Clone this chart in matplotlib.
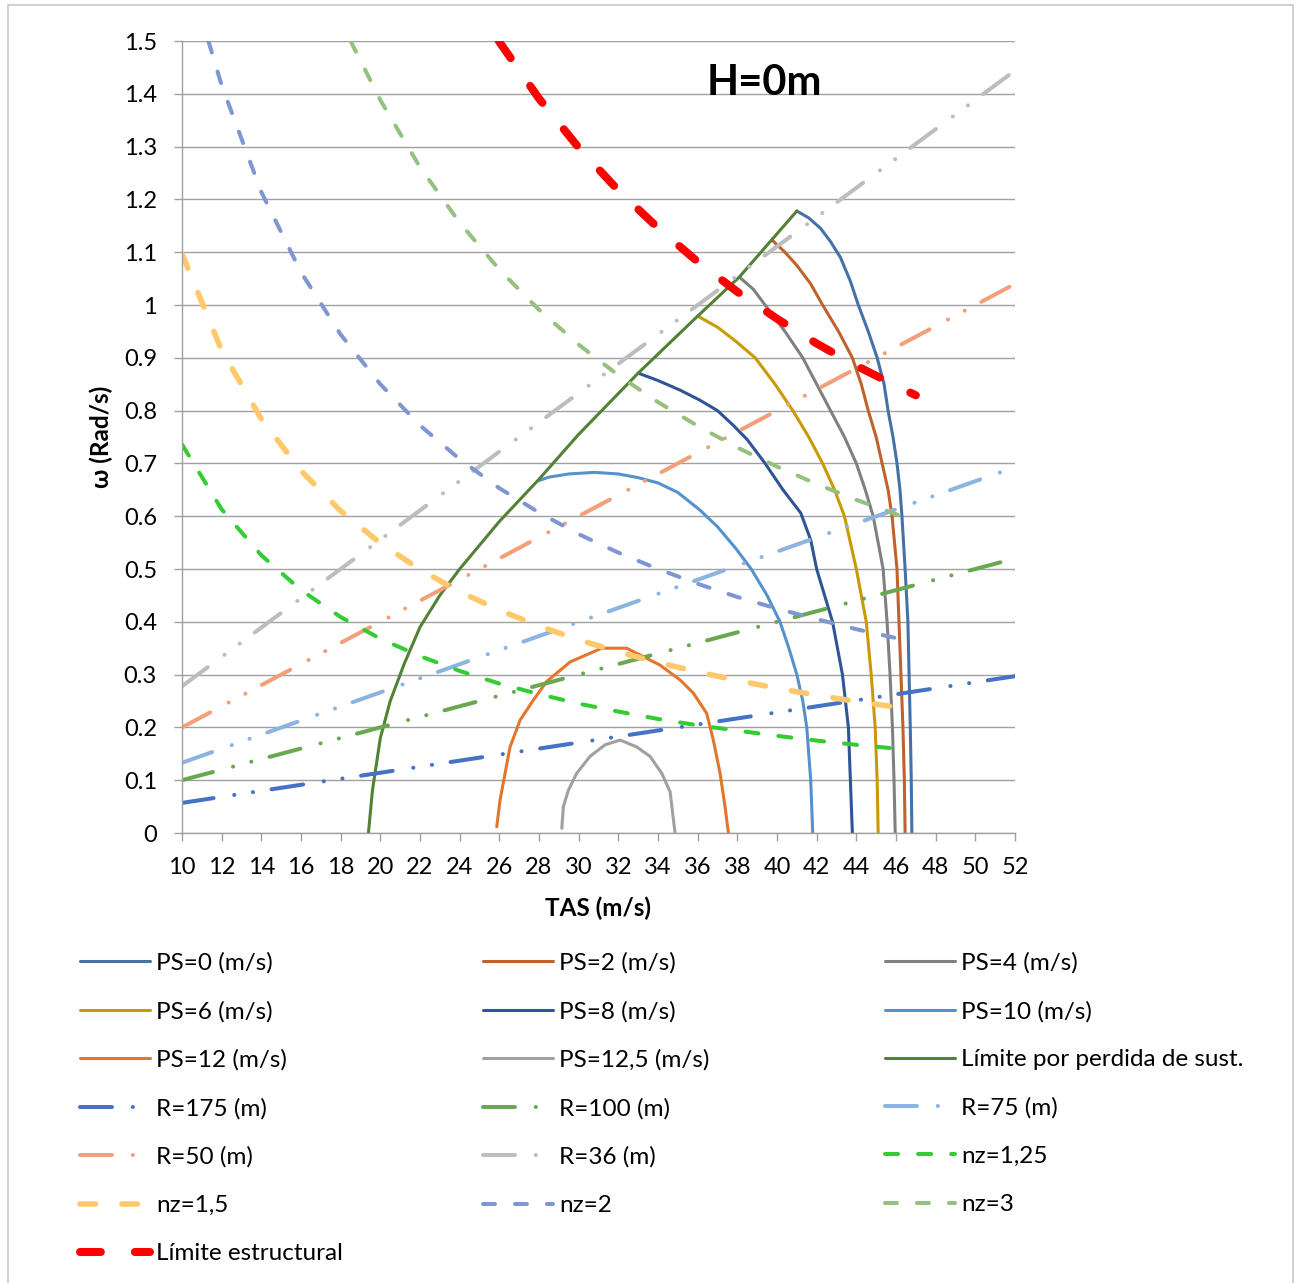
import matplotlib
matplotlib.use("Agg")
import matplotlib.pyplot as plt
from matplotlib.patches import Rectangle

plt.rcParams['font.family'] = ['Lato', 'DejaVu Sans']
plt.rcParams['lines.scale_dashes'] = False

# ---- data ----
# specific excess power curves (TAS m/s, omega rad/s)
ps0_v = [41.0, 41.6, 42.2, 42.7, 43.2, 43.7, 44.1, 44.6, 45.05, 45.4, 45.6, 45.85,
         46.05, 46.2, 46.3, 46.46, 46.6, 46.66, 46.72, 46.77, 46.8]
ps0_w = [1.178, 1.165, 1.145, 1.12, 1.09, 1.045, 1.0, 0.95, 0.9, 0.85, 0.8, 0.75,
         0.7, 0.65, 0.6, 0.5, 0.4, 0.3, 0.2, 0.1, 0.0]
ps2_v = [39.75, 40.4, 41.0, 41.7, 42.3, 43.1, 43.8, 44.25, 44.6, 45.0, 45.3, 45.6,
         45.8, 46.05, 46.15, 46.25, 46.35, 46.42, 46.46]
ps2_w = [1.123, 1.10, 1.075, 1.04, 1.0, 0.95, 0.9, 0.85, 0.8, 0.75, 0.7, 0.65,
         0.6, 0.5, 0.4, 0.3, 0.2, 0.1, 0.0]
ps4_v = [38.1, 38.8, 39.4, 40.4, 41.3, 42.0, 42.7, 43.4, 44.0, 44.45, 44.85, 45.35,
         45.55, 45.7, 45.82, 45.9, 45.96]
ps4_w = [1.053, 1.03, 1.0, 0.95, 0.9, 0.85, 0.8, 0.75, 0.7, 0.65, 0.6, 0.5,
         0.4, 0.3, 0.2, 0.1, 0.0]
ps6_v = [36.0, 37.0, 37.9, 38.9, 39.9, 40.8, 41.6, 42.3, 42.9, 43.4, 44.0, 44.5,
         44.75, 44.95, 45.05, 45.1]
ps6_w = [0.979, 0.958, 0.932, 0.9, 0.85, 0.8, 0.75, 0.7, 0.65, 0.6, 0.5, 0.4,
         0.3, 0.2, 0.1, 0.0]
ps8_v = [33.0, 34.0, 35.1, 36.1, 37.0, 37.8, 38.5, 39.4, 40.3, 41.2, 41.7, 42.0,
         42.8, 43.3, 43.6, 43.7, 43.8]
ps8_w = [0.871, 0.857, 0.839, 0.82, 0.80, 0.772, 0.745, 0.70, 0.65, 0.606, 0.555, 0.5,
         0.4, 0.3, 0.2, 0.1, 0.0]
ps10_v = [27.95, 28.5, 29.5, 30.8, 32.0, 33.0, 34.0, 35.0, 36.1, 37.0, 37.9, 38.7,
          39.5, 40.15, 40.6, 41.0, 41.3, 41.5, 41.7, 41.8]
ps10_w = [0.667, 0.674, 0.68, 0.683, 0.68, 0.673, 0.663, 0.645, 0.612, 0.58, 0.54, 0.5,
          0.45, 0.4, 0.35, 0.3, 0.25, 0.2, 0.1, 0.0]
ps12_v = [25.87, 26.04, 26.29, 26.54, 27.05, 27.72, 28.39, 29.57, 31.16, 32.42, 34.1,
          35.11, 35.78, 36.45, 36.79, 37.13, 37.38, 37.55]
ps12_w = [0.012, 0.063, 0.113, 0.163, 0.214, 0.252, 0.287, 0.324, 0.35, 0.35, 0.318,
          0.29, 0.265, 0.227, 0.176, 0.113, 0.05, 0.0]
ps125_v = [29.15, 29.23, 29.48, 29.9, 30.57, 31.33, 32.09, 32.93, 33.6, 34.19, 34.61,
           34.74, 34.86]
ps125_w = [0.009, 0.05, 0.081, 0.113, 0.145, 0.167, 0.176, 0.163, 0.145, 0.113, 0.078,
           0.037, 0.0]

# stall limit
stall_v = [19.4, 19.6, 20.0, 20.5, 21.2, 22.0, 23.0, 24.0, 26.0, 28.0, 30.0, 33.0, 36.0, 38.1, 41.0]
stall_w = [0.0, 0.08, 0.18, 0.25, 0.32, 0.39, 0.45, 0.5, 0.59, 0.67, 0.755, 0.871, 0.979, 1.053, 1.178]

# constant turn radius lines
r_v = [10, 52]
r175_w = [0.057, 0.297]
r100_w = [0.100, 0.520]
r75_w = [0.133, 0.693]
r50_w = [0.200, 1.040]
r36_w = [0.278, 1.444]

# constant load factor curves
nz_v = [10, 12, 14, 16, 18, 20, 22, 24, 26, 28, 30, 32, 34, 36, 38, 40, 42, 44, 46.5]
nz125_w = [0.736, 0.613, 0.526, 0.460, 0.409, 0.368, 0.335, 0.307, 0.283, 0.263,
           0.245, 0.230, 0.216, 0.204, 0.194, 0.184, 0.175, 0.167, 0.158]
nz15_w = [1.097, 0.914, 0.784, 0.686, 0.610, 0.549, 0.499, 0.457, 0.422, 0.392,
          0.366, 0.343, 0.323, 0.305, 0.289, 0.274, 0.261, 0.249, 0.236]
nz2_v = [11.33, 12, 14, 16, 18, 20, 22, 24, 26, 28, 30, 32, 34, 36, 38, 40, 42, 44, 46.5]
nz2_w = [1.5, 1.416, 1.214, 1.062, 0.944, 0.850, 0.772, 0.708, 0.653, 0.607,
         0.566, 0.531, 0.500, 0.472, 0.447, 0.425, 0.405, 0.386, 0.365]
nz3_v = [18.5, 20, 22, 24, 26, 28, 30, 32, 34, 36, 38, 40, 42, 44, 46.5]
nz3_w = [1.5, 1.388, 1.261, 1.156, 1.067, 0.991, 0.925, 0.867, 0.816, 0.771,
         0.730, 0.694, 0.661, 0.631, 0.597]

# structural limit
est_v = [25.97, 28, 30, 32, 34, 36, 38, 40, 42, 44, 46, 47]
est_w = [1.5, 1.391, 1.298, 1.217, 1.146, 1.082, 1.025, 0.974, 0.927, 0.885, 0.847, 0.829]

x_ticks = list(range(10, 53, 2))
y_ticks = [0, 0.1, 0.2, 0.3, 0.4, 0.5, 0.6, 0.7, 0.8, 0.9, 1.0, 1.1, 1.2, 1.3, 1.4, 1.5]

# ---- figure ----
fig = plt.figure(figsize=(13.01, 12.83), dpi=100)
ax = fig.add_axes([182 / 1301, 1 - 833 / 1283, 833 / 1301, 792 / 1283])

fig.patches.append(Rectangle((7.5 / 1301, -0.01), 1285.5 / 1301, 1.01 - 5 / 1283,
                             transform=fig.transFigure, fill=False,
                             edgecolor='#c8c8c8', lw=1.2))

solid = dict(lw=2.2, solid_capstyle='round', solid_joinstyle='round')
ax.plot(ps0_v, ps0_w, color='#4472a8', label='PS=0 (m/s)', **solid)
ax.plot(ps2_v, ps2_w, color='#c0622b', label='PS=2 (m/s)', **solid)
ax.plot(ps4_v, ps4_w, color='#808080', label='PS=4 (m/s)', **solid)
ax.plot(ps6_v, ps6_w, color='#c99a06', label='PS=6 (m/s)', **solid)
ax.plot(ps8_v, ps8_w, color='#2f5597', label='PS=8 (m/s)', **solid)
ax.plot(ps10_v, ps10_w, color='#5592cc', label='PS=10 (m/s)', **solid)
ax.plot(ps12_v, ps12_w, color='#e2762d', label='PS=12 (m/s)', **solid)
ax.plot(ps125_v, ps125_w, color='#a0a0a0', label='PS=12,5 (m/s)', **solid)
ax.plot(stall_v, stall_w, color='#538135', label='Límite por perdida de sust.', **solid)

rdash = (0, (23, 15, 0.1, 13.5, 0.1, 13.5))
rkw = dict(lw=2.9, ls=rdash, dash_capstyle='round')
ax.plot(r_v, r175_w, color='#4472c4', label='R=175 (m)', **rkw)
ax.plot(r_v, r100_w, color='#6aa84f', label='R=100 (m)', **rkw)
ax.plot(r_v, r75_w, color='#8cb4e0', label='R=75 (m)', **rkw)
ax.plot(r_v, r50_w, color='#f2a07a', label='R=50 (m)', **rkw)
ax.plot(r_v, r36_w, color='#bdbdbd', label='R=36 (m)', **rkw)

ax.plot(nz_v, nz125_w, color='#33cc33', lw=2.9, ls=(0, (9.4, 14.4)),
        dash_capstyle='round', label='nz=1,25')
ax.plot(nz_v, nz15_w, color='#ffc86a', lw=4.0, ls=(0, (11.2, 19)),
        dash_capstyle='round', label='nz=1,5')
ax.plot(nz2_v, nz2_w, color='#7e97d2', lw=2.9, ls=(0, (8.6, 14.4)),
        dash_capstyle='round', label='nz=2')
ax.plot(nz3_v, nz3_w, color='#95c17f', lw=2.9, ls=(0, (8.6, 14.4)),
        dash_capstyle='round', label='nz=3')
ax.plot(est_v, est_w, color='#ff0000', lw=5.8, ls=(0, (15, 24.5)),
        dash_capstyle='round', label='Límite estructural')

ax.text(39.35, 1.398, 'H=0m', ha='center', va='baseline', fontsize=30,
        fontweight='bold')

ax.set_xlim(10, 52)
ax.set_ylim(0, 1.5)
ax.set_xticks(x_ticks)
ax.set_yticks(y_ticks)
ax.set_yticklabels(['%g' % t for t in y_ticks])
ax.tick_params(axis='both', labelsize=17, length=6, width=1, color='#a0a0a0',
               direction='out')
ax.tick_params(axis='y', pad=12)
ax.tick_params(axis='x', pad=11)
ax.yaxis.grid(True, color='#a0a0a0', lw=1.0)
ax.set_axisbelow(True)
for s in ['top', 'right']:
    ax.spines[s].set_visible(False)
for s in ['left', 'bottom']:
    ax.spines[s].set_color('#a0a0a0')
    ax.spines[s].set_linewidth(1.0)

ax.set_xlabel('TAS (m/s)', fontsize=17.5, fontweight='bold')
ax.xaxis.set_label_coords(0.5, -0.08)
ax.set_ylabel('ω (Rad/s)', fontsize=17.5, fontweight='bold')
ax.yaxis.set_label_coords(-0.083, 0.5)

handles, labels = ax.get_legend_handles_labels()
# Excel lays the legend out row by row in 3 columns
for col, x0 in enumerate([80, 483, 885]):
    idx = list(range(col, len(handles), 3))
    fig.legend([handles[i] for i in idx], [labels[i] for i in idx],
               loc='upper left', bbox_to_anchor=(x0 / 1301, 1 - 952 / 1283),
               frameon=False, fontsize=17.5, borderpad=0, borderaxespad=0,
               handlelength=2.9, handletextpad=0.22, labelspacing=1.115)

fig.savefig('out.png', dpi=100)
